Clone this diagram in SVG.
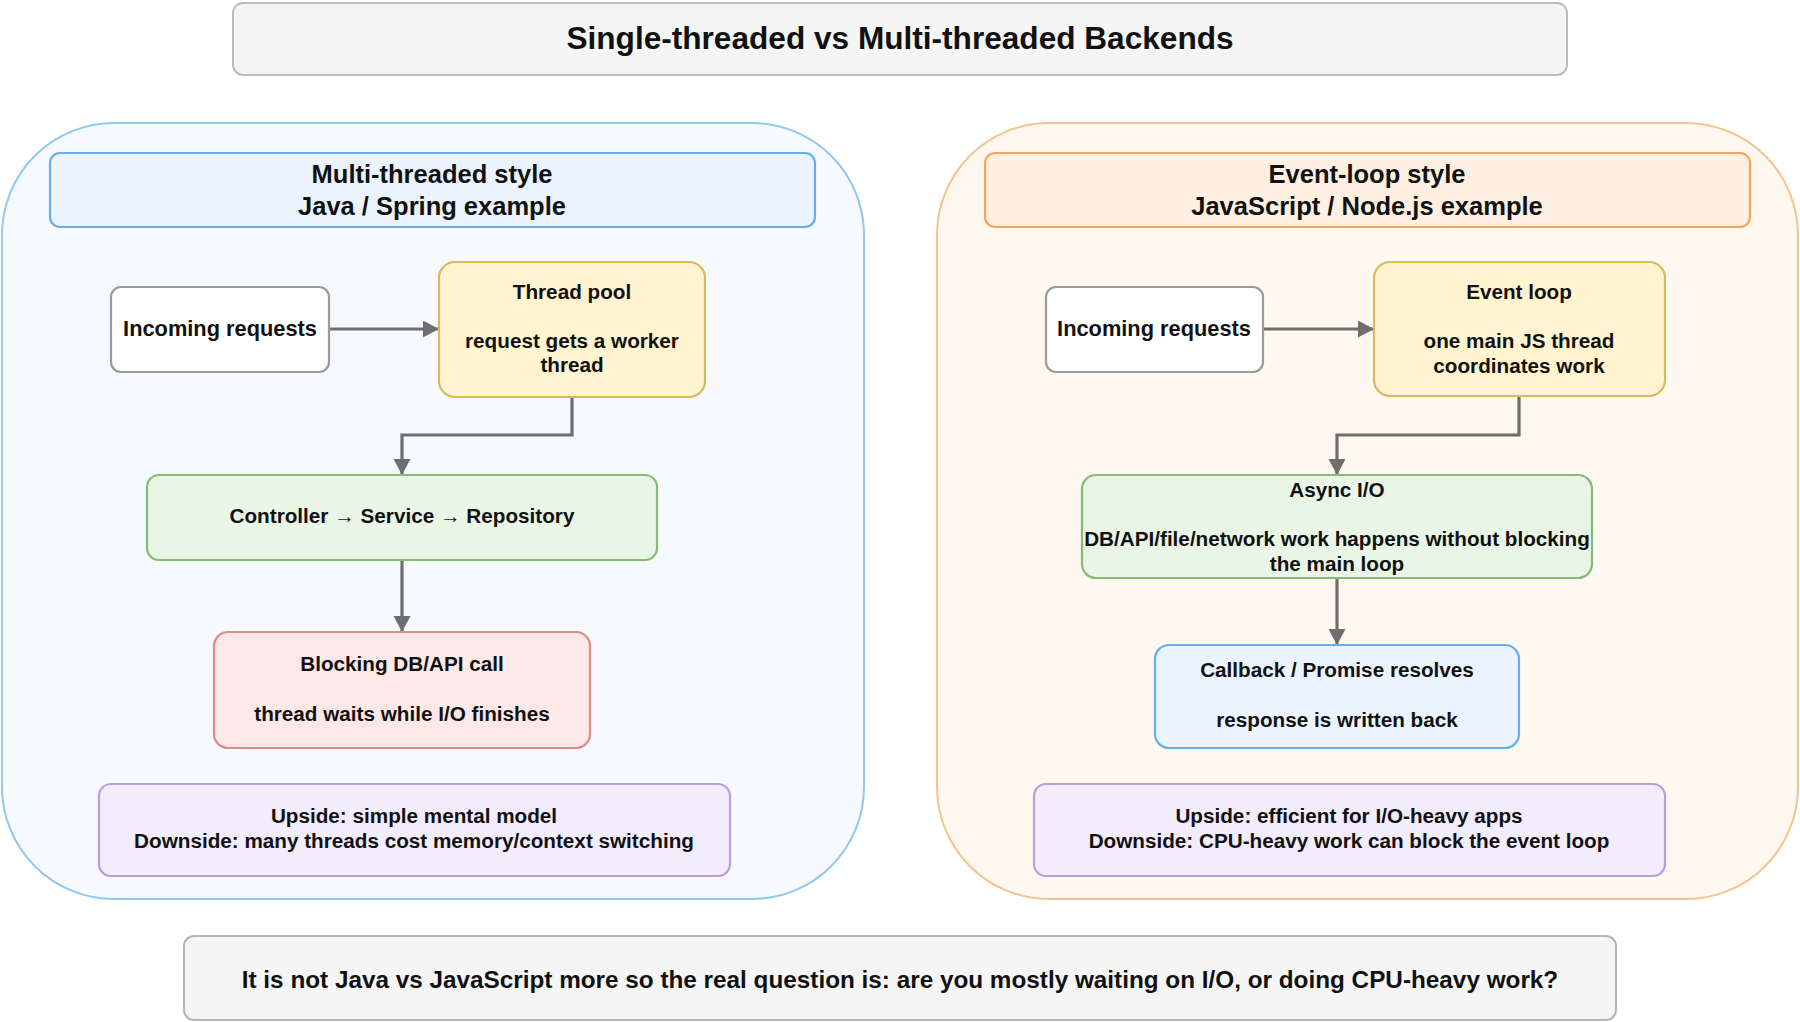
<svg xmlns="http://www.w3.org/2000/svg" width="1800" height="1022" viewBox="0 0 1800 1022">
<defs>
<style>
text{font-family:"Liberation Sans",Arial,Helvetica,sans-serif;font-weight:bold;fill:#111;text-anchor:middle}
.t{font-size:31.6px}
.h{font-size:25.5px}
.b{font-size:20.7px}
.in{font-size:21.8px}
.f{font-size:24.3px}
.edge{fill:none;stroke:#6e6e6e;stroke-width:3.2}
.box{stroke-width:2.2}
</style>
<marker id="ah" markerUnits="userSpaceOnUse" markerWidth="18" markerHeight="18" refX="16" refY="8.5" orient="auto">
<path d="M0,0 L16,8.5 L0,17 Z" fill="#6e6e6e"/>
</marker>
</defs>
<rect width="1800" height="1022" fill="#ffffff"/>

<g id="title">
<rect x="233" y="3" width="1334" height="72" rx="10" fill="#f5f5f5" stroke="#bdbdbd" stroke-width="2"/>
<text class="t" x="900" y="49">Single-threaded vs Multi-threaded Backends</text>
</g>

<g id="panel-left">
<rect x="2" y="123" width="862" height="776" rx="112" fill="#f6faff" stroke="#92c7ef" stroke-width="2"/>
</g>
<g id="panel-right">
<rect x="937" y="123" width="861" height="776" rx="112" fill="#fef8f1" stroke="#f3c48e" stroke-width="2"/>
</g>

<g id="header-left">
<rect class="box" x="50" y="153" width="765" height="74" rx="10" fill="#ebf4fe" stroke="#68aee9"/>
<text class="h" x="432" y="183">Multi-threaded style</text>
<text class="h" x="432" y="215">Java / Spring example</text>
</g>

<g id="header-right">
<rect class="box" x="985" y="153" width="765" height="74" rx="10" fill="#fdefe1" stroke="#f2a562"/>
<text class="h" x="1367" y="183">Event-loop style</text>
<text class="h" x="1367" y="215">JavaScript / Node.js example</text>
</g>

<g id="connectors">
<path class="edge" d="M329,329 H439" marker-end="url(#ah)"/>
<path class="edge" d="M572,397 V435 H402 V475" marker-end="url(#ah)"/>
<path class="edge" d="M402,560 V632" marker-end="url(#ah)"/>
<path class="edge" d="M1263,329 H1374" marker-end="url(#ah)"/>
<path class="edge" d="M1519,396 V435 H1337 V475" marker-end="url(#ah)"/>
<path class="edge" d="M1337,578 V645" marker-end="url(#ah)"/>
</g>

<g id="incoming-left">
<rect class="box" x="111" y="287" width="218" height="85" rx="10" fill="#ffffff" stroke="#9a9a9a"/>
<text class="in" x="220" y="336">Incoming requests</text>
</g>

<g id="thread-pool">
<rect class="box" x="439" y="262" width="266" height="135" rx="16" fill="#fff4cf" stroke="#d8b95c"/>
<text class="b" x="572" y="299">Thread pool</text>
<text class="b" x="572" y="348">request gets a worker</text>
<text class="b" x="572" y="372">thread</text>
</g>

<g id="controller">
<rect class="box" x="147" y="475" width="510" height="85" rx="12" fill="#e9f6e6" stroke="#85bb72"/>
<text class="b" x="402" y="523">Controller → Service → Repository</text>
</g>

<g id="blocking">
<rect class="box" x="214" y="632" width="376" height="116" rx="14" fill="#fde8e8" stroke="#e28a88"/>
<text class="b" x="402" y="671">Blocking DB/API call</text>
<text class="b" x="402" y="721">thread waits while I/O finishes</text>
</g>

<g id="summary-left">
<rect class="box" x="99" y="784" width="631" height="92" rx="12" fill="#f2ecfd" stroke="#b79fdc"/>
<text class="b" x="414" y="823">Upside: simple mental model</text>
<text class="b" x="414" y="848">Downside: many threads cost memory/context switching</text>
</g>

<g id="incoming-right">
<rect class="box" x="1046" y="287" width="217" height="85" rx="10" fill="#ffffff" stroke="#9a9a9a"/>
<text class="in" x="1154" y="336">Incoming requests</text>
</g>

<g id="event-loop">
<rect class="box" x="1374" y="262" width="291" height="134" rx="16" fill="#fff4cf" stroke="#d8b95c"/>
<text class="b" x="1519" y="299">Event loop</text>
<text class="b" x="1519" y="348">one main JS thread</text>
<text class="b" x="1519" y="373">coordinates work</text>
</g>

<g id="async-io">
<rect class="box" x="1082" y="475" width="510" height="103" rx="14" fill="#e9f6e6" stroke="#85bb72"/>
<text class="b" x="1337" y="497">Async I/O</text>
<text class="b" x="1337" y="546">DB/API/file/network work happens without blocking</text>
<text class="b" x="1337" y="571">the main loop</text>
</g>

<g id="callback">
<rect class="box" x="1155" y="645" width="364" height="103" rx="14" fill="#ebf4fe" stroke="#68aee9"/>
<text class="b" x="1337" y="677">Callback / Promise resolves</text>
<text class="b" x="1337" y="727">response is written back</text>
</g>

<g id="summary-right">
<rect class="box" x="1034" y="784" width="631" height="92" rx="12" fill="#f2ecfd" stroke="#b79fdc"/>
<text class="b" x="1349" y="823">Upside: efficient for I/O-heavy apps</text>
<text class="b" x="1349" y="848">Downside: CPU-heavy work can block the event loop</text>
</g>

<g id="footer">
<rect x="184" y="936" width="1432" height="84" rx="10" fill="#f5f5f5" stroke="#b5b5b5" stroke-width="2"/>
<text class="f" x="900" y="988">It is not Java vs JavaScript more so the real question is: are you mostly waiting on I/O, or doing CPU-heavy work?</text>
</g>
</svg>
